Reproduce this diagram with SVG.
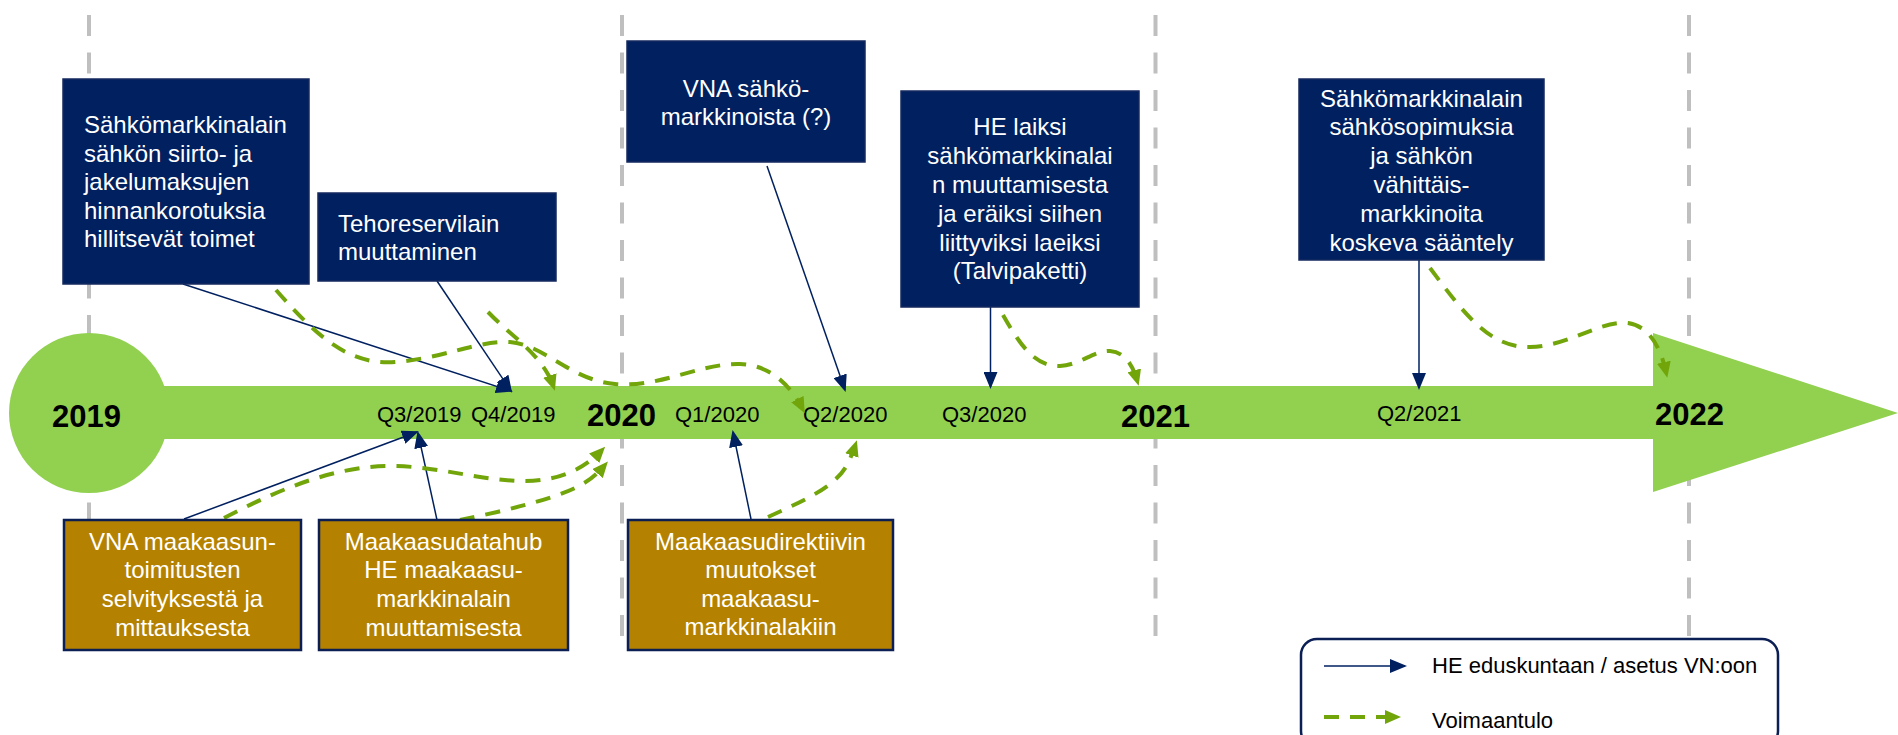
<svg xmlns="http://www.w3.org/2000/svg" width="1898" height="735" viewBox="0 0 1898 735">
<style>
text{font-family:"Liberation Sans",Arial,sans-serif}
.bt{font-size:24px;fill:#fff}
.c{text-anchor:middle}
.q{font-size:22px;fill:#000}
.yr{font-size:31px;font-weight:bold;fill:#000}
.lg{font-size:22px;fill:#000}
.grid{stroke:#BFBFBF;stroke-width:4;stroke-dasharray:21 16.5;fill:none}
.nb{fill:#002060;stroke:#14295E;stroke-width:1.5}
.gb{fill:#B48200;stroke:#0B1F55;stroke-width:2.5}
.bl{stroke:#002060;stroke-width:1.5;fill:none;marker-end:url(#ab)}
.gr{stroke:#71A50A;stroke-width:4;fill:none;stroke-dasharray:15 11;marker-end:url(#ag)}
.tl{fill:#92D050}
</style>
<defs>
<marker id="ab" markerUnits="userSpaceOnUse" markerWidth="17" markerHeight="14" refX="15" refY="7" orient="auto"><path d="M0,0 L17,7 L0,14 z" fill="#002060"/></marker>
<marker id="ag" markerUnits="userSpaceOnUse" markerWidth="16" markerHeight="14" refX="10" refY="7" orient="auto"><path d="M0,0 L16,7 L0,14 z" fill="#71A50A"/></marker>
</defs>
<rect width="1898" height="735" fill="#fff"/>

<g id="gridlines">
<line class="grid" x1="89" y1="15" x2="89" y2="637"/>
<line class="grid" x1="622" y1="15" x2="622" y2="637"/>
<line class="grid" x1="1155.5" y1="15" x2="1155.5" y2="637"/>
<line class="grid" x1="1689" y1="15" x2="1689" y2="637"/>
</g>

<g id="timeline">
<circle class="tl" cx="89" cy="413" r="80"/>
<rect class="tl" x="89" y="386" width="1570" height="53"/>
<polygon class="tl" points="1653,333 1898,413 1653,492"/>
<text class="yr" x="52" y="427">2019</text>
<text class="q" x="377" y="422">Q3/2019</text>
<text class="q" x="471" y="422">Q4/2019</text>
<text class="yr" x="587" y="426">2020</text>
<text class="q" x="675" y="422">Q1/2020</text>
<text class="q" x="803" y="422">Q2/2020</text>
<text class="q" x="942" y="422">Q3/2020</text>
<text class="yr" x="1121" y="427">2021</text>
<text class="q" x="1377" y="421">Q2/2021</text>
<text class="yr" x="1655" y="425">2022</text>
</g>

<g id="connectors">
<line class="bl" x1="183" y1="284" x2="511" y2="391"/>
<line class="bl" x1="437" y1="281" x2="511" y2="391"/>
<line class="bl" x1="184" y1="519" x2="417" y2="432"/>
<line class="bl" x1="437" y1="520" x2="418" y2="433"/>
<line class="bl" x1="767" y1="166" x2="845" y2="390"/>
<line class="bl" x1="990.5" y1="307" x2="990.5" y2="387"/>
<line class="bl" x1="1419" y1="260" x2="1419" y2="388"/>
<line class="bl" x1="751" y1="519" x2="733" y2="432"/>
<path class="gr" d="M276,290 C320,340 350,365 395,362 C440,359 480,340 510,342 C545,345 570,380 615,384 C660,388 700,363 740,364 C770,365 790,385 802,408"/>
<path class="gr" d="M488,312 C510,335 535,350 549,376 C551,380 552,382 553,385"/>
<path class="gr" d="M1003,315 C1020,345 1035,367 1060,366 C1080,365 1095,350 1110,351 C1125,352 1133,366 1137,380"/>
<path class="gr" d="M1430,268 C1465,315 1490,348 1530,347 C1570,346 1600,320 1628,323 C1648,326 1660,345 1666,372"/>
<path class="gr" d="M224,518 C270,494 330,466 390,466 C440,466 480,481 525,481 C560,481 585,468 601,451"/>
<path class="gr" d="M460,520 C500,512 550,500 575,488 C590,481 598,473 604,466"/>
<path class="gr" d="M768,517 C805,500 835,487 847,465 C851,457 853,452 855,446"/>
</g>

<g id="n-sahkomarkkinalain-siirto">
<rect class="nb" x="63" y="79" width="246" height="205"/>
<text class="bt" x="84" y="133">Sähkömarkkinalain</text>
<text class="bt" x="84" y="161.5">sähkön siirto- ja</text>
<text class="bt" x="84" y="190">jakelumaksujen</text>
<text class="bt" x="84" y="218.5">hinnankorotuksia</text>
<text class="bt" x="84" y="247">hillitsevät toimet</text>
</g>

<g id="n-tehoreservilain">
<rect class="nb" x="318" y="193" width="238" height="88"/>
<text class="bt" x="338" y="232">Tehoreservilain</text>
<text class="bt" x="338" y="260">muuttaminen</text>
</g>

<g id="n-vna-sahkomarkkinoista">
<rect class="nb" x="627" y="41" width="238" height="121"/>
<text class="bt c" x="746" y="97">VNA sähkö-</text>
<text class="bt c" x="746" y="125">markkinoista (?)</text>
</g>

<g id="n-he-talvipaketti">
<rect class="nb" x="901" y="91" width="238" height="216"/>
<text class="bt c" x="1020" y="135">HE laiksi</text>
<text class="bt c" x="1020" y="164">sähkömarkkinalai</text>
<text class="bt c" x="1020" y="193">n muuttamisesta</text>
<text class="bt c" x="1020" y="222">ja eräiksi siihen</text>
<text class="bt c" x="1020" y="251">liittyviksi laeiksi</text>
<text class="bt c" x="1020" y="279">(Talvipaketti)</text>
</g>

<g id="n-sahkosopimukset">
<rect class="nb" x="1299" y="79" width="245" height="181"/>
<text class="bt c" x="1421.5" y="107">Sähkömarkkinalain</text>
<text class="bt c" x="1421.5" y="135">sähkösopimuksia</text>
<text class="bt c" x="1421.5" y="164">ja sähkön</text>
<text class="bt c" x="1421.5" y="193">vähittäis-</text>
<text class="bt c" x="1421.5" y="222">markkinoita</text>
<text class="bt c" x="1421.5" y="251">koskeva sääntely</text>
</g>

<g id="n-vna-maakaasuntoimitusten">
<rect class="gb" x="64" y="520" width="237" height="130"/>
<text class="bt c" x="182.5" y="550">VNA maakaasun-</text>
<text class="bt c" x="182.5" y="578">toimitusten</text>
<text class="bt c" x="182.5" y="607">selvityksestä ja</text>
<text class="bt c" x="182.5" y="636">mittauksesta</text>
</g>

<g id="n-maakaasudatahub">
<rect class="gb" x="319" y="520" width="249" height="130"/>
<text class="bt c" x="443.5" y="550">Maakaasudatahub</text>
<text class="bt c" x="443.5" y="578">HE maakaasu-</text>
<text class="bt c" x="443.5" y="607">markkinalain</text>
<text class="bt c" x="443.5" y="636">muuttamisesta</text>
</g>

<g id="n-maakaasudirektiivin">
<rect class="gb" x="628" y="520" width="265" height="130"/>
<text class="bt c" x="760.5" y="550">Maakaasudirektiivin</text>
<text class="bt c" x="760.5" y="578">muutokset</text>
<text class="bt c" x="760.5" y="607">maakaasu-</text>
<text class="bt c" x="760.5" y="635">markkinalakiin</text>
</g>

<g id="legend">
<rect x="1301" y="639" width="477" height="108" rx="16" fill="#fff" stroke="#0B1F55" stroke-width="2.5"/>
<line class="bl" x1="1324" y1="666" x2="1405" y2="666"/>
<line x1="1324" y1="717" x2="1395" y2="717" stroke="#71A50A" stroke-width="4" stroke-dasharray="15 11" marker-end="url(#ag)"/>
<text class="lg" x="1432" y="673">HE eduskuntaan / asetus VN:oon</text>
<text class="lg" x="1432" y="728">Voimaantulo</text>
</g>
</svg>
